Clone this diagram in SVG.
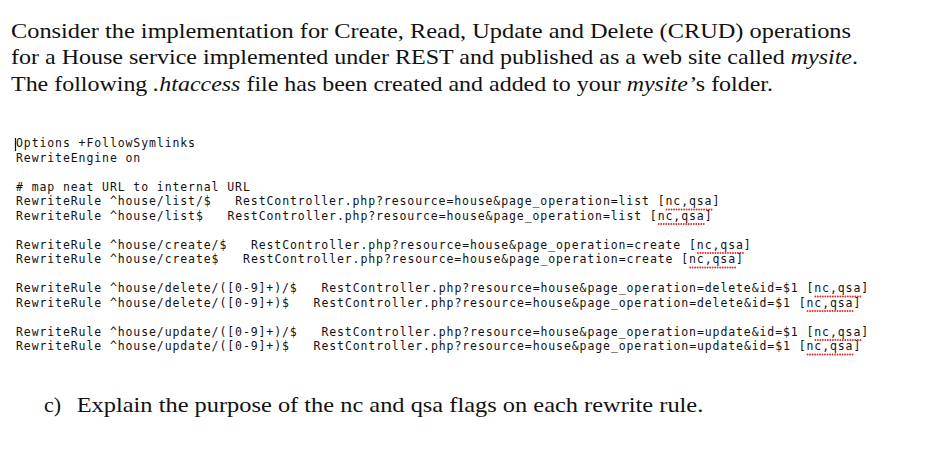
<svg xmlns="http://www.w3.org/2000/svg" width="940" height="469" viewBox="0 0 940 469">
<style>
.h{font-family:"Liberation Serif","Times New Roman",serif;font-size:21.5px;fill:#111;}
.q{font-family:"Liberation Serif","Times New Roman",serif;font-size:22px;fill:#111;}
.i{font-style:italic;}
.c{font-family:"DejaVu Sans Mono","Liberation Mono",monospace;font-size:11.5px;letter-spacing:0.9px;fill:#111;white-space:pre;}
.sp{stroke:#e0302c;stroke-width:1.8;stroke-linecap:round;stroke-dasharray:0.1 2.4;fill:none;}
</style>
<rect width="940" height="469" fill="#ffffff"/>
<g id="intro">
<text class="h" x="11" y="37.5" textLength="840" lengthAdjust="spacingAndGlyphs">Consider the implementation for Create, Read, Update and Delete (CRUD) operations</text>
<text class="h" x="11" y="64" textLength="847" lengthAdjust="spacingAndGlyphs">for a House service implemented under REST and published as a web site called <tspan class="i">mysite</tspan>.</text>
<text class="h" x="11" y="90.5" textLength="762" lengthAdjust="spacingAndGlyphs">The following <tspan class="i">.htaccess</tspan> file has been created and added to your <tspan class="i">mysite’</tspan>s folder.</text>
</g>
<g id="code">
<line x1="15.5" y1="138" x2="15.5" y2="151" stroke="#111" stroke-width="1.2"/>
<text class="c" x="16" y="147">Options +FollowSymlinks</text>
<text class="c" x="16" y="161.5">RewriteEngine on</text>
<text class="c" x="16" y="190.5"># map neat URL to internal URL</text>
<text class="c" x="16" y="205">RewriteRule ^house/list/$<tspan x="235.2">RestController.php?resource=house&amp;page_operation=list [nc,qsa]</tspan></text>
<text class="c" x="16" y="219.5">RewriteRule ^house/list$<tspan x="227.4">RestController.php?resource=house&amp;page_operation=list [nc,qsa]</tspan></text>
<text class="c" x="16" y="248.5">RewriteRule ^house/create/$<tspan x="250.9">RestController.php?resource=house&amp;page_operation=create [nc,qsa]</tspan></text>
<text class="c" x="16" y="263">RewriteRule ^house/create$<tspan x="243.1">RestController.php?resource=house&amp;page_operation=create [nc,qsa]</tspan></text>
<text class="c" x="16" y="292">RewriteRule ^house/delete/([0-9]+)/$<tspan x="321.4">RestController.php?resource=house&amp;page_operation=delete&amp;id=$1 [nc,qsa]</tspan></text>
<text class="c" x="16" y="306.5">RewriteRule ^house/delete/([0-9]+)$<tspan x="313.6">RestController.php?resource=house&amp;page_operation=delete&amp;id=$1 [nc,qsa]</tspan></text>
<text class="c" x="16" y="335.5">RewriteRule ^house/update/([0-9]+)/$<tspan x="321.4">RestController.php?resource=house&amp;page_operation=update&amp;id=$1 [nc,qsa]</tspan></text>
<text class="c" x="16" y="350">RewriteRule ^house/update/([0-9]+)$<tspan x="313.6">RestController.php?resource=house&amp;page_operation=update&amp;id=$1 [nc,qsa]</tspan></text>
</g>
<g id="spellcheck">
<line class="sp" x1="666.5" y1="209.5" x2="712" y2="209.5"/>
<line class="sp" x1="658.7" y1="224" x2="704.2" y2="224"/>
<line class="sp" x1="697.9" y1="253" x2="743.4" y2="253"/>
<line class="sp" x1="690.1" y1="267.5" x2="735.6" y2="267.5"/>
<line class="sp" x1="815.3" y1="296.5" x2="860.8" y2="296.5"/>
<line class="sp" x1="807.5" y1="311" x2="853" y2="311"/>
<line class="sp" x1="815.3" y1="340" x2="860.8" y2="340"/>
<line class="sp" x1="807.5" y1="354.5" x2="853" y2="354.5"/>
</g>
<g id="question">
<text class="q" x="44" y="411.5">c)</text>
<text class="q" x="76.7" y="411.5" textLength="626.6" lengthAdjust="spacingAndGlyphs">Explain the purpose of the nc and qsa flags on each rewrite rule.</text>
</g>
</svg>
